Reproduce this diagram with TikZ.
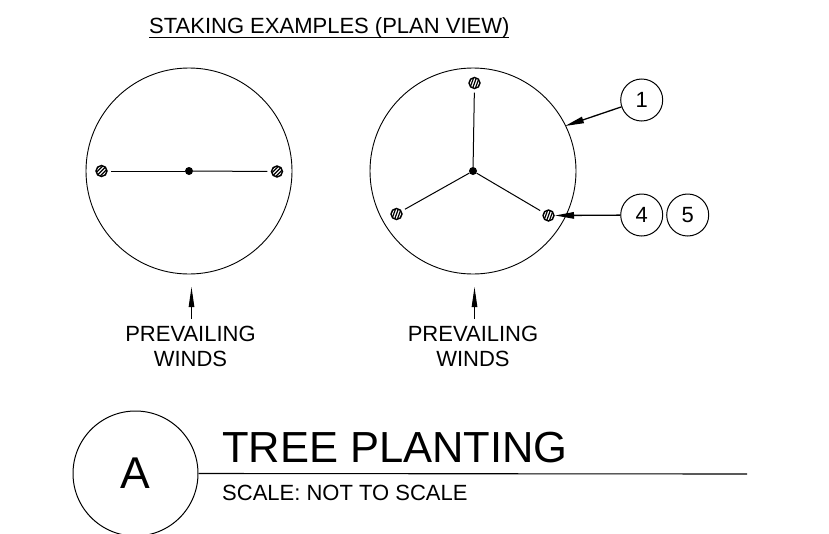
\documentclass[tikz,border=0pt]{standalone}
\usepackage{fontspec}
\setmainfont{Liberation Sans}
\usetikzlibrary{arrows.meta,calc}
\tikzset{
  x=1pt,y=-1pt,
  ink/.style={draw=black,line width=1.1pt},
  plan/.style={circle,draw=black,line width=0.9pt,minimum size=206pt,inner sep=0pt},
  hub/.style={circle,fill=black,minimum size=8pt,inner sep=0pt},
  stake/.style={circle,draw=black,line width=1.4pt,minimum size=11pt,inner sep=0pt,
    path picture={
      \foreach \d in {-5.2,-2.6,0,2.6,5.2}{
        \draw[line width=1.2pt,black]
          ($(path picture bounding box.center)+(#1+90:\d)+(#1:8)$) --
          ($(path picture bounding box.center)+(#1+90:\d)-(#1:8)$);
      }}},
  bubble/.style={circle,draw=black,line width=1pt,minimum size=42pt,inner sep=0pt,font=\fontsize{22}{22}\selectfont},
  tie/.style={draw=black,line width=1pt,shorten <=3.5pt},
  leader/.style={draw=black,line width=1.3pt,-{Triangle[length=19pt,width=6.5pt]}},
  wind/.style={draw=black,line width=1pt,-{Triangle[length=20pt,width=5.5pt]}},
  label/.style={font=\fontsize{22}{22}\selectfont,inner sep=0pt,anchor=base},
}
\begin{document}
\begin{tikzpicture}
\path[use as bounding box] (0,0) rectangle (829,533);
\clip (0,0) rectangle (829,533);
\fill[white] (0,0) rectangle (829,533);

\node[label,anchor=base west] (head) at (149,33) {STAKING EXAMPLES (PLAN VIEW)};
\coordinate (hl) at (149,37.7);
\coordinate (hr) at (509,37.7);
\draw[ink] (hl)--(hr);

% left plan
\node[plan] (c1) at (189,171) {};
\node[hub] (h1) at (189,171) {};
\node[stake=-45] (s1a) at (101.5,171) {};
\node[stake=-45] (s1b) at (277,171.5) {};
\draw[tie] (s1a)--(h1);
\draw[tie] (s1b)--(h1);

% right plan
\node[plan] (c2) at (473,171) {};
\node[hub] (h2) at (473,171) {};
\node[stake=-70] (s2a) at (474.5,83) {};
\node[stake=-70] (s2b) at (396.5,214) {};
\node[stake=-70] (s2c) at (548.5,215.5) {};
\draw[tie] (s2a)--(h2);
\draw[tie] (s2b)--(h2);
\draw[tie] (s2c)--(h2);

% bubbles
\node[bubble] (b1) at (641.7,100) {1};
\node[bubble] (b4) at (641.7,215) {4};
\node[bubble] (b5) at (687.7,215) {5};
\coordinate (t1) at (565,126);
\coordinate (t4) at (555,215.5);
\draw[leader] (b1)--(t1);
\draw[leader] (b4)--(t4);

% winds
\node[label] (w1) at (190.5,341) {PREVAILING};
\node[label] (w1b) at (190.5,366) {WINDS};
\node[label] (w2) at (473,341) {PREVAILING};
\node[label] (w2b) at (473,366) {WINDS};
\coordinate (a1) at (191.5,287);
\coordinate (f1) at (191.5,319);
\coordinate (a2) at (474.5,287);
\coordinate (f2) at (474.5,319);
\draw[wind] (f1)--(a1);
\draw[wind] (f2)--(a2);

% title
\node[circle,draw=black,line width=1pt,minimum size=125pt,inner sep=0pt,font=\fontsize{44.5}{44.5}\selectfont] (A) at (135.5,473.5) {A};
\coordinate (re) at (747,474);
\draw[ink] (A.east)--(re);
\node[anchor=base west,inner sep=0pt,font=\fontsize{43.5}{43.5}\selectfont] (T) at (222,462) {TREE PLANTING};
\node[anchor=base west,inner sep=0pt,font=\fontsize{22}{22}\selectfont] (S) at (222,500) {SCALE: NOT TO SCALE};
\end{tikzpicture}
\end{document}
